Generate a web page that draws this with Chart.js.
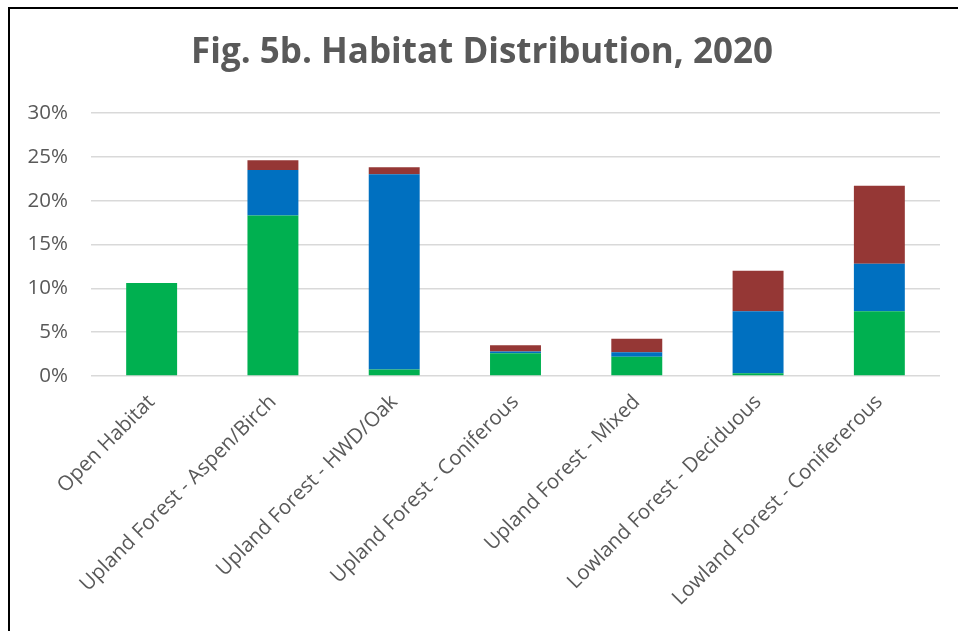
<!DOCTYPE html>
<html>
<head>
<meta charset="utf-8">
<script src="https://cdn.jsdelivr.net/npm/chart.js@4"></script>
<style>
  html, body { margin: 0; padding: 0; background: #fff; }
  #frame {
    position: absolute; left: 8px; top: 7px;
    width: 950px; height: 624px;
    border-left: 2px solid #000; border-top: 2px solid #000;
  }
  #chart { display: block; }
</style>
</head>
<body>
<div id="frame"><canvas id="chart" width="950" height="624"></canvas></div>
<script>
const categories = [
  'Open Habitat',
  'Upland Forest - Aspen/Birch',
  'Upland Forest - HWD/Oak',
  'Upland Forest - Coniferous',
  'Upland Forest - Mixed',
  'Lowland Forest - Deciduous',
  'Lowland Forest - Conifererous'
];
// share of area, percent
const greenValues = [10.6, 18.3, 0.75, 2.6, 2.2, 0.3, 7.4];
const blueValues = [0, 5.2, 22.25, 0.2, 0.5, 7.1, 5.4];
const redValues = [0, 1.1, 0.8, 0.7, 1.55, 4.6, 8.9];
const yTicks = [0, 5, 10, 15, 20, 25, 30];

const textColor = '#595959';
const fontFamily = '"Open Sans"';

const ctx = document.getElementById('chart').getContext('2d');

new Chart(ctx, {
  type: 'bar',
  data: {
    labels: categories,
    datasets: [
      { label: 'Series 1', data: greenValues, backgroundColor: '#00B050' },
      { label: 'Series 2', data: blueValues, backgroundColor: '#0070C0' },
      { label: 'Series 3', data: redValues, backgroundColor: '#953735' }
    ]
  },
  options: {
    responsive: false,
    devicePixelRatio: 1,
    animation: false,
    barPercentage: 0.42,
    categoryPercentage: 1.0,
    layout: {
      // a little left padding nudges the title centre right, as in the original
      padding: { top: 0, left: 14, right: 20, bottom: 0 }
    },
    plugins: {
      legend: { display: false },
      tooltip: { enabled: false },
      title: {
        display: true,
        text: 'Fig. 5b. Habitat Distribution, 2020',
        color: textColor,
        font: { family: fontFamily, size: 35, weight: 'bold' },
        padding: { top: 23, bottom: 39 }
      }
    },
    scales: {
      x: {
        stacked: true,
        grid: { display: false },
        border: { display: false },
        afterFit: (axis) => { axis.height = 257; },
        ticks: {
          color: textColor,
          font: { family: fontFamily, size: 20.5 },
          minRotation: 45,
          maxRotation: 45,
          autoSkip: false,
          padding: 6
        }
      },
      y: {
        stacked: true,
        min: 0,
        max: 30,
        afterBuildTicks: (axis) => {
          axis.ticks = yTicks.map(v => ({ value: v }));
        },
        afterFit: (axis) => { axis.width = 67; },
        grid: { color: '#d9d9d9', lineWidth: 1.5, drawTicks: false },
        border: { display: false },
        ticks: {
          color: textColor,
          font: { family: fontFamily, size: 20.5 },
          padding: 23,
          callback: (value) => value + '%'
        }
      }
    }
  }
});
</script>
</body>
</html>
